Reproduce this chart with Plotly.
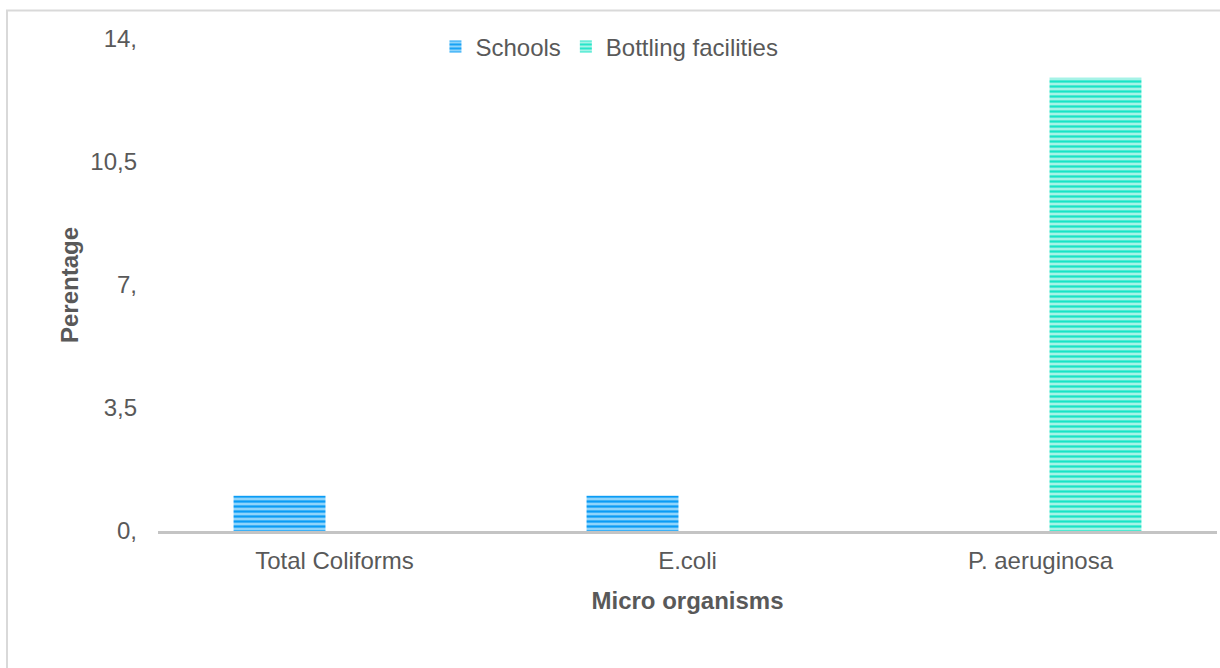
import plotly.graph_objects as go

# Categories and percentage values
organisms = ["Total Coliforms", "E.coli", "P. aeruginosa"]
schools = [1.0, 1.0, 0.0]
bottling = [0.0, 0.0, 12.9]

y_tick_vals = [0, 3.5, 7, 10.5, 14]
y_tick_text = ["0,", "3,5", "7,", "10,5", "14,"]

FONT = "Liberation Sans, Arial, Helvetica, sans-serif"
TEXT = "#595959"
SIZE = 24

fig = go.Figure()
fig.add_trace(go.Bar(
    name="Schools", x=organisms, y=schools,
    marker=dict(
        color="#0FA3F7",
        line=dict(width=0),
        pattern=dict(shape="-", size=5, solidity=0.45,
                     fgcolor="#0A9CF5", bgcolor="#8FD4FB", fillmode="replace"),
    ),
))
fig.add_trace(go.Bar(
    name="Bottling facilities", x=organisms, y=bottling,
    marker=dict(
        color="#1EE6C8",
        line=dict(width=0),
        pattern=dict(shape="-", size=5, solidity=0.45,
                     fgcolor="#18E4C6", bgcolor="#A6F3E7", fillmode="replace"),
    ),
))

fig.update_layout(
    width=1220, height=668,
    margin=dict(l=158, r=3, t=39, b=137),
    paper_bgcolor="white", plot_bgcolor="white",
    font=dict(family=FONT, size=SIZE, color=TEXT),
    barmode="group", bargap=0.377, bargroupgap=0.164,
    showlegend=True,
    legend=dict(orientation="h", x=0.262, xanchor="left", y=0.984, yanchor="middle",
                font=dict(size=SIZE, color=TEXT),
                bgcolor="rgba(0,0,0,0)"),
    xaxis=dict(
        showline=True, linecolor="#C4C4C4", linewidth=3,
        showgrid=False, ticks="", zeroline=False,
        tickfont=dict(size=SIZE, color=TEXT), ticklabelstandoff=6,
        title=dict(text="<b>Micro organisms</b>", standoff=20,
                   font=dict(size=SIZE, color=TEXT)),
    ),
    yaxis=dict(
        range=[0, 14], tickvals=y_tick_vals, ticktext=y_tick_text,
        showgrid=False, zeroline=False, showline=False, ticks="",
        tickfont=dict(size=SIZE, color=TEXT), ticklabelstandoff=20,
        title=dict(text="<b>Perentage</b>", standoff=4,
                   font=dict(size=SIZE, color=TEXT)),
    ),
    shapes=[dict(
        type="rect", xref="paper", yref="paper",
        x0=-0.1426, x1=1.2, y0=-0.5, y1=1.058,
        line=dict(color="#D9D9D9", width=2), fillcolor="rgba(0,0,0,0)",
        layer="below",
    )],
)

fig.write_html("out.html")
